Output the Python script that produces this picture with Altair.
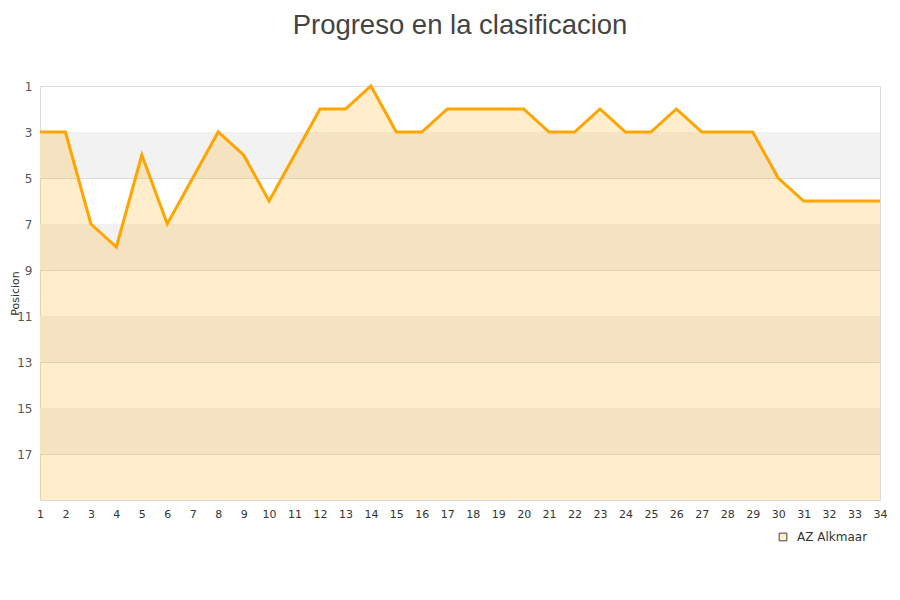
import altair as alt
import pandas as pd

jornadas = list(range(1, 35))
posiciones = [3, 3, 7, 8, 4, 7, 5, 3, 4, 6, 4, 2, 2, 1, 3, 3, 2, 2, 2, 2,
              3, 3, 2, 3, 3, 2, 3, 3, 3, 5, 6, 6, 6, 6]
equipo = "AZ Alkmaar"
band_start = [3, 7, 11, 15]
band_end = [5, 9, 13, 17]
y_ticks = [1, 3, 5, 7, 9, 11, 13, 15, 17]

df = pd.DataFrame({"jornada": jornadas, "pos": posiciones, "equipo": [equipo] * len(jornadas)})
bands = pd.DataFrame({"y1": band_start, "y2": band_end})

xscale = alt.Scale(domain=[1, 34], nice=False, zero=False)
yscale = alt.Scale(domain=[1, 19], reverse=True, nice=False, zero=False)

xaxis = alt.Axis(values=jornadas, title=None, grid=False, tickSize=0, labelPadding=8,
                 labelFontSize=11, labelColor="#333333", labelFont="DejaVu Sans",
                 domain=False, format="d", labelFlush=False, labelOverlap=False)

band_layer = alt.Chart(bands).mark_rect(color="#f2f2f2").encode(
    y=alt.Y("y1:Q", scale=yscale,
            axis=alt.Axis(values=y_ticks, title="Posicion", grid=True, gridColor="#dddddd",
                          tickSize=0, labelPadding=8, labelFontSize=12, labelColor="#555555",
                          labelFont="DejaVu Sans", domain=False, titleFont="DejaVu Sans",
                          titleFontSize=11, titleFontWeight="normal", titleColor="#333333",
                          titleX=-25, titleY=207, titleAngle=270, titleBaseline="middle",
                          titleAlign="center",
                          labelFlush=False, labelOverlap=False)),
    y2="y2:Q",
    x=alt.value(0),
    x2=alt.value(840),
)

area = alt.Chart(df).mark_area(color="#FFA500", fillOpacity=0.2, line=False).encode(
    x=alt.X("jornada:Q", scale=xscale, axis=xaxis),
    y=alt.Y("pos:Q", scale=yscale),
    y2=alt.datum(19),
)

legend_layer = alt.Chart(df).mark_point(shape="square", fillOpacity=0, strokeOpacity=0, size=1).encode(
    x=alt.X("jornada:Q", scale=xscale, axis=xaxis),
    y=alt.Y("pos:Q", scale=yscale),
    fill=alt.Fill("equipo:N", scale=alt.Scale(range=["#FFEDCC"]),
                  legend=alt.Legend(title=None, orient="none", legendX=737, legendY=445,
                                    symbolType="square", symbolSize=60, labelOffset=8,
                                    symbolStrokeColor="#444444", symbolStrokeWidth=1,
                                    symbolFillColor="#FFEDCC", symbolOpacity=1,
                                    labelFont="DejaVu Sans", labelFontSize=12,
                                    labelColor="#333333")),
)

line = alt.Chart(df).mark_line(color="#FFA500", strokeWidth=3).encode(
    x=alt.X("jornada:Q", scale=xscale, axis=xaxis),
    y=alt.Y("pos:Q", scale=yscale),
)

chart = alt.layer(band_layer, area, line, legend_layer).properties(
    width=840,
    height=414,
    title=alt.TitleParams("Progreso en la clasificacion", fontSize=27.5, font="Liberation Sans",
                          fontWeight="normal", color="#444444", anchor="middle", offset=41),
    autosize=alt.AutoSizeParams(type="none"),
    padding={"left": 32, "top": 78, "right": 12, "bottom": 92},
).configure_view(stroke="#dddddd").configure_axisX(labelOverlap=False, labelFlush=False)

chart.save("out.html", embed_options={"renderer": "svg", "actions": False})
